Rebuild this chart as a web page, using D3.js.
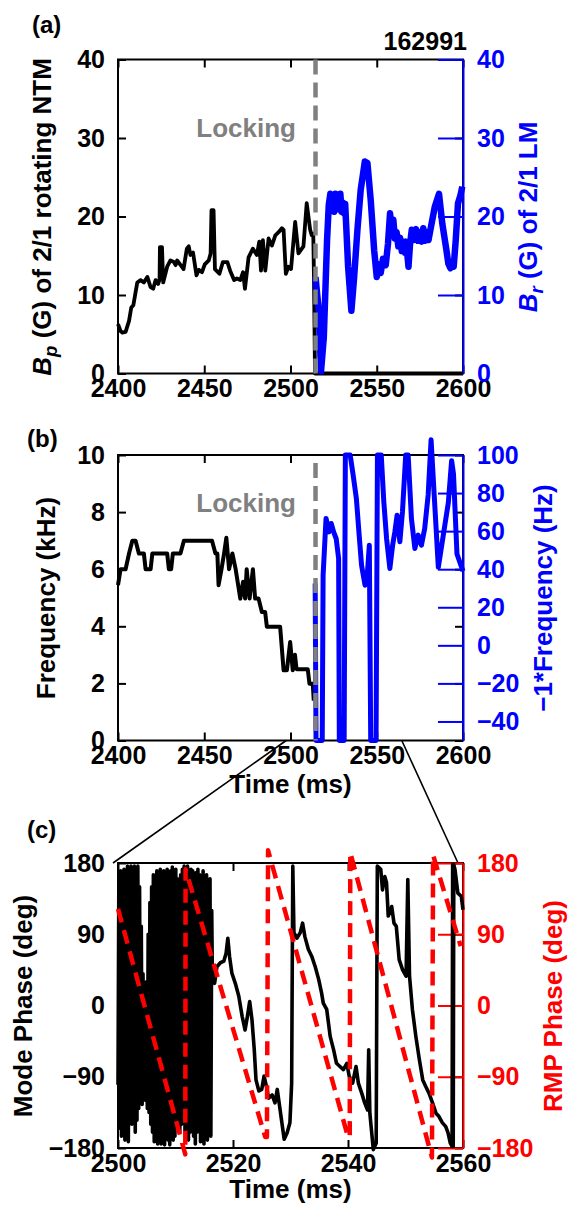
<!DOCTYPE html>
<html><head><meta charset="utf-8">
<script src="https://cdn.jsdelivr.net/npm/d3@7"></script>
<style>html,body{margin:0;padding:0;background:#fff;} svg{display:block;}</style>
</head><body>
<svg id="chart" width="573" height="1205"></svg>
<script>
// ---------------- DATA ----------------
const shotNumber = "162991";
const lockingTime = 2514.5;

// (a) B_p of 2/1 rotating NTM (G) : [time ms, value]
const bpNTM = [[2400,6.3],[2401.5,5.4],[2402.5,5.2],[2404.4,5.3],[2406.4,6.7],[2407.7,8.4],[2408.9,8.7],[2410.3,10.5],[2411.2,11.6],[2413.1,11.9],[2415,11.6],[2417,12.3],[2418.9,11],[2420.4,10.8],[2421.8,11.9],[2423.3,11.4],[2424.1,12],[2424.3,16.1],[2425.5,16.1],[2426.2,11.6],[2428.5,13.6],[2430.4,14.4],[2432.4,14.2],[2433.4,13.8],[2434.3,14.4],[2436,13.9],[2438,13.3],[2439.9,15.9],[2441,16.2],[2442,15.1],[2443.5,15.4],[2445.5,12.5],[2446.8,13.2],[2448.7,12.9],[2450.3,13.9],[2452.6,14.4],[2453.7,15.3],[2454.2,20.8],[2455.4,20.8],[2456.2,13.3],[2458.8,12.7],[2460.8,14.2],[2463.4,14.2],[2465,13.1],[2467.3,11.9],[2468.9,12.1],[2470.9,11.9],[2472.5,12.9],[2473.6,10.8],[2475.7,14.8],[2478.2,15.9],[2480.5,15.1],[2481.9,16.8],[2482.9,13.1],[2484,17],[2485.4,13.1],[2487.3,17.2],[2489.2,16.3],[2491.2,17.6],[2493.1,18],[2495,18.5],[2496,18.3],[2497.3,12.7],[2498.8,13.6],[2500.3,13.3],[2502.7,19.3],[2504.6,15.3],[2507.5,16.2],[2509.4,21.7],[2511.4,18.3],[2512.3,17.6],[2513.2,17.8],[2513.6,12.3],[2514.2,0],[2600,0]];

// (a) B_r of 2/1 locked mode (G)
const brLM = [[2514.5,12.3],[2516.4,8.0],[2517.7,0.3],[2519.3,4.6],[2521.2,17],[2522.2,21.5],[2523.1,22.9],[2523.8,20.8],[2524.6,22.3],[2525.3,20.6],[2526,22.9],[2526.8,21],[2527.5,22.4],[2528.2,20.9],[2528.9,22.9],[2529.6,20.6],[2530.4,21.8],[2531.1,20.4],[2531.7,21.6],[2533.4,13.6],[2535.3,8.0],[2536.9,12.3],[2538.8,18.3],[2540.7,23.4],[2543.1,27],[2544.6,26.8],[2546.5,22.1],[2548.5,15.7],[2550,12.3],[2551.2,13.9],[2552.3,12.8],[2553.6,14.6],[2555.2,13.8],[2556.5,16.5],[2557.7,20.4],[2558.6,18.6],[2559.6,19.6],[2560.5,17.2],[2561.5,18],[2562.5,16.2],[2563.5,17.3],[2564.5,15.6],[2565.4,16.8],[2566.3,15.4],[2567,16.8],[2568.4,13.6],[2569.3,16.5],[2570.3,18.3],[2571.5,17],[2572.8,18.4],[2574,16.9],[2575.1,18],[2576,16.8],[2577,18.5],[2578,16.9],[2579,18],[2580,17],[2581.1,18.3],[2583.6,21.2],[2586.1,22.9],[2588,19.1],[2590.4,15.7],[2591.5,14],[2592.7,13.4],[2593.6,14.2],[2594.6,13.6],[2595.8,17],[2597.1,21.7],[2598.4,22.6],[2599.6,23.8]];

// (b) NTM frequency (kHz)
const freqNTM = [[2400,5.44],[2401.5,6.0],[2404.4,6.0],[2406.4,6.55],[2408.3,7.0],[2410.2,7.0],[2412.1,6.55],[2415,6.55],[2416,6.0],[2418.9,6.0],[2419.9,6.55],[2428.5,6.55],[2429.5,6.0],[2430.8,6.0],[2431.8,6.55],[2436.2,6.55],[2438.2,7.0],[2454.5,7.0],[2456.5,6.55],[2457.6,6.55],[2458.3,5.44],[2460,6.0],[2461.5,6.55],[2462.8,7.1],[2464.4,6.0],[2466.3,6.55],[2468.2,6.0],[2470.9,4.97],[2472.5,5.56],[2473.7,4.97],[2474.6,6.0],[2476.3,4.97],[2478.2,6.0],[2479.5,4.97],[2481.5,4.97],[2483.4,4.5],[2485.3,4.5],[2486.3,3.98],[2494,3.98],[2496,2.46],[2497.9,2.46],[2499.8,3.45],[2501.3,2.46],[2502.6,3.0],[2503.5,2.5],[2510,2.5],[2511,1.99],[2512.9,1.99],[2513.5,1.4]];

// (b) -1*frequency of locked mode (Hz)
const negFreqLM = [[2514.3,32.5],[2514.8,-50],[2518.4,-50],[2518.9,36.8],[2520.6,66.7],[2522.3,59.6],[2523.6,64],[2525,59.6],[2526.5,56],[2527.9,45.6],[2528.3,-50],[2531.1,-50],[2531.8,100],[2534.6,100],[2536.3,89.5],[2538.2,77],[2539.8,58],[2541.2,42],[2543.2,31.6],[2544.5,36.8],[2545.7,52.6],[2546.5,-50],[2549.6,-50],[2550.4,100],[2552.6,100],[2554.1,75.4],[2555.7,56],[2557.6,40.4],[2559.2,52.6],[2560.5,59.6],[2561.8,68.4],[2563.4,54.4],[2564.9,70.2],[2566.8,100],[2568.2,100],[2570.1,66.7],[2572.1,50.9],[2574,57.9],[2575.9,52.6],[2577.8,61.4],[2579.8,79],[2581.5,108],[2583.3,79],[2585.7,41],[2588.6,58],[2591.5,75],[2593.4,97],[2594.5,90],[2596.5,48],[2600,39]];

// (c) mode phase (deg): fast rotating part, then slow part
const modePhaseFast = [[2500,-100],[2500.15,165],[2500.3,-155],[2500.45,170],[2500.6,-165],[2500.75,160],[2500.9,-150],[2501.05,172],[2501.2,-170],[2501.35,168],[2501.5,-160],[2501.65,176],[2501.8,-172],[2501.95,160],[2502.1,-140],[2502.25,176],[2502.4,-150],[2502.55,170],[2502.7,-135],[2502.85,176],[2503,-160],[2503.15,165],[2503.3,-145],[2503.45,176],[2503.6,-130],[2503.75,150],[2503.9,-120],[2504.05,100],[2504.2,-125],[2504.35,40],[2504.5,-110],[2504.65,-20],[2504.8,-120],[2504.95,30],[2505.1,-130],[2505.25,90],[2505.4,-135],[2505.55,130],[2505.7,-150],[2505.85,150],[2506,-160],[2506.15,165],[2506.3,-172],[2506.45,150],[2506.6,-165],[2506.75,170],[2506.9,-175],[2507.05,160],[2507.2,-170],[2507.35,172],[2507.5,-175],[2507.65,165],[2507.8,-168],[2507.95,170],[2508.1,-176],[2508.25,160],[2508.4,-165],[2508.55,172],[2508.7,-170],[2508.85,165],[2509,-176],[2509.15,170],[2509.3,-160],[2509.45,175],[2509.6,-170],[2509.75,168],[2509.9,-165],[2510.05,172],[2510.2,-150],[2510.35,160],[2510.5,-155],[2510.75,-160],[2510.9,165],[2511.05,-150],[2511.2,172],[2511.35,-135],[2511.5,176],[2511.65,-160],[2511.8,170],[2511.95,-150],[2512.1,176],[2512.25,-170],[2512.4,165],[2512.55,-160],[2512.7,172],[2512.85,-130],[2513,170],[2513.15,-165],[2513.3,160],[2513.45,-175],[2513.6,168],[2513.75,-160],[2513.9,172],[2514.05,-150],[2514.2,165],[2514.35,-172],[2514.5,160],[2514.65,-165],[2514.8,170],[2514.95,-175],[2515.1,160],[2515.25,-160],[2515.4,165],[2515.55,-170],[2515.7,150],[2515.85,-155],[2516,160],[2516.15,-165],[2516.3,120],[2516.4,45]];
const modePhaseSlow = [[2516.4,45],[2516.8,28],[2517.2,49],[2517.8,54],[2518.4,56],[2518.8,66],[2519.1,85],[2519.4,62],[2519.8,41],[2520.4,28],[2521,12],[2521.6,-14],[2522.1,-31],[2522.5,-14],[2522.9,5],[2523.3,-18],[2523.7,-56],[2524,-94],[2524.5,-108],[2525,-106],[2525.4,-89],[2525.8,-102],[2526.2,-117],[2526.8,-113],[2527.3,-123],[2527.7,-106],[2528.1,-127],[2528.5,-148],[2528.9,-169],[2529.4,-161],[2529.9,-148],[2530.2,-98],[2530.4,176],[2530.6,92],[2531.1,85],[2531.7,92],[2532.1,104],[2532.5,87],[2533.1,71],[2533.7,62],[2534.3,49],[2534.9,33],[2535.4,16],[2535.7,3],[2536.3,-5],[2536.9,-39],[2537.5,-56],[2538,-73],[2538.6,-77],[2539.2,-81],[2539.8,-73],[2540.2,-89],[2540.8,-98],[2541.4,-77],[2541.8,-98],[2542.4,-111],[2542.9,-123],[2543.4,-132],[2543.6,-56],[2543.8,-136],[2544.4,-182],[2544.9,-174],[2545.1,176],[2545.7,172],[2546,146],[2546.4,163],[2546.7,155],[2547,113],[2547.6,125],[2548,104],[2548.4,100],[2548.9,58],[2549.5,45],[2550.1,37],[2550.4,159],[2550.7,37],[2551.2,-5],[2551.8,-39],[2552.4,-68],[2553,-94],[2553.5,-102],[2554.1,-111],[2554.7,-123],[2555.3,-136],[2555.8,-140],[2556.4,-148],[2557,-153],[2557.4,-161],[2557.8,-174],[2558.1,-178],[2558.2,178],[2558.3,-178],[2558.4,178],[2558.6,172],[2559.1,142],[2559.7,138],[2560,121]];

// (c) RMP phase (deg)
const rmpPhase = [[2500,122],[2511.7,-188],[2511.75,172],[2525.6,-166],[2525.9,-166],[2526.1,196],[2540,-166],[2540.3,-166],[2540.4,193],[2554.6,-192],[2554.8,190],[2559.6,75]];

// ticks
const xTicksAB = [2400,2450,2500,2550,2600];
const xTicksC = [2500,2520,2540,2560];
const yTicksA = [0,10,20,30,40];
const yTicksB = [0,2,4,6,8,10];
const yRTicksB = [-40,-20,0,20,40,60,80,100];
const yTicksC = [-180,-90,0,90,180];

// ---------------- LAYOUT ----------------
const FONT = "'Liberation Sans', Arial, Helvetica, sans-serif";
const TICK_FS = 25, TITLE_FS = 26;
const X0 = 118, X1 = 463;
const BLUE = "#0000ff", RED = "#ff0000", GRAY = "#808080";

const svg = d3.select("#chart");

const xA = d3.scaleLinear([2400, 2600], [X0, X1]);
const yA = d3.scaleLinear([0, 40], [373.5, 59.5]);
const yAR = d3.scaleLinear([0, 40], [373.5, 59.5]);
const xB = d3.scaleLinear([2400, 2600], [X0, X1]);
const yB = d3.scaleLinear([0, 10], [740.5, 455]);
const yBR = d3.scaleLinear([-50, 100], [740.5, 455]);
const xC = d3.scaleLinear([2500, 2560], [X0, X1]);
const yC = d3.scaleLinear([-180, 180], [1148, 863]);
const yCR = d3.scaleLinear([-180, 180], [1148, 863]);

function styleAxis(g, color) {
  g.attr("font-family", FONT).attr("font-size", TICK_FS).attr("font-weight", "bold");
  g.selectAll("line").attr("stroke", color).attr("stroke-width", 2);
  g.selectAll("path.domain").attr("stroke", color).attr("stroke-width", 2);
  g.selectAll("text").attr("fill", color);
}

function frame(x, y, yR, xTicks, yTicks, yRTicks, rightColor) {
  const [x0, x1] = x.range();
  const [y0, y1] = y.range();
  const fmt = d3.format("d");
  const gb = svg.append("g").attr("transform", `translate(0,${y0})`)
    .call(d3.axisBottom(x).tickValues(xTicks).tickSize(-8).tickSizeOuter(0).tickPadding(6).tickFormat(fmt));
  gb.select(".domain").remove(); styleAxis(gb, "#000");
  const gt = svg.append("g").attr("transform", `translate(0,${y1})`)
    .call(d3.axisTop(x).tickValues(xTicks).tickSize(-8).tickSizeOuter(0).tickFormat(""));
  gt.select(".domain").remove(); styleAxis(gt, "#000");
  const gl = svg.append("g").attr("transform", `translate(${x0},0)`)
    .call(d3.axisLeft(y).tickValues(yTicks).tickSize(-8).tickSizeOuter(0).tickPadding(13).tickFormat(fmt));
  gl.select(".domain").remove(); styleAxis(gl, "#000");
  const gm = svg.append("g").attr("transform", `translate(${x1},0)`)
    .call(d3.axisRight(y).tickValues(yTicks).tickSize(-8).tickSizeOuter(0).tickFormat(""));
  gm.select(".domain").remove(); styleAxis(gm, "#000");
  svg.append("rect").attr("x", x0).attr("y", y1).attr("width", x1 - x0).attr("height", y0 - y1)
    .attr("fill", "none").attr("stroke", "#000").attr("stroke-width", 2);
  const gr = svg.append("g").attr("transform", `translate(${x1},0)`)
    .call(d3.axisRight(yR).tickValues(yRTicks).tickSize(-25).tickSizeOuter(0).tickPadding(14).tickFormat(fmt));
  styleAxis(gr, rightColor);
}

function plotLine(data, x, y, color, width, dash) {
  const line = d3.line().x(d => x(d[0])).y(d => y(d[1]));
  const p = svg.append("path").datum(data).attr("d", line)
    .attr("fill", "none").attr("stroke", color).attr("stroke-width", width)
    .attr("stroke-linejoin", "round");
  if (dash) p.attr("stroke-dasharray", dash);
  return p;
}

function yTitle(x, y, parts, color) {
  const t = svg.append("text").attr("transform", `translate(${x},${y}) rotate(-90)`)
    .attr("text-anchor", "middle").attr("font-family", FONT).attr("font-size", TITLE_FS)
    .attr("font-weight", "bold").attr("fill", color);
  parts.forEach(p => {
    const s = t.append("tspan").text(p.text);
    if (p.italic) s.attr("font-style", "italic");
    if (p.sub) s.attr("font-size", TITLE_FS * 0.72).attr("dy", 6);
    if (p.unsub) s.attr("dy", -6);
  });
}

function label(x, y, text, opts = {}) {
  return svg.append("text").attr("x", x).attr("y", y).text(text)
    .attr("font-family", FONT).attr("font-weight", "bold")
    .attr("font-size", opts.size || TITLE_FS).attr("fill", opts.color || "#000")
    .attr("text-anchor", opts.anchor || "start");
}

// ---------------- PANEL (a) ----------------
frame(xA, yA, yAR, xTicksAB, yTicksA, yTicksA, BLUE);
plotLine(bpNTM, xA, yA, "#000", 3.8);
plotLine(brLM, xA, yAR, BLUE, 6.5);
svg.append("line").attr("x1", xA(lockingTime)).attr("x2", xA(lockingTime))
  .attr("y1", yA(40)).attr("y2", yA(0)).attr("stroke", GRAY).attr("stroke-width", 4.5)
  .attr("stroke-dasharray", "15,8");
label(296, 137, "Locking", {color: GRAY, anchor: "end"});
label(467, 50, shotNumber, {size: TICK_FS, anchor: "end"});
label(32, 33, "(a)", {size: 24});
yTitle(51, 217, [{text: "B", italic: true}, {text: "p", italic: true, sub: true}, {text: " (G) of 2/1 rotating NTM", unsub: true}], "#000");
yTitle(537, 217, [{text: "B", italic: true}, {text: "r", italic: true, sub: true}, {text: " (G) of 2/1 LM", unsub: true}], BLUE);

// ---------------- PANEL (b) ----------------
frame(xB, yB, yBR, xTicksAB, yTicksB, yRTicksB, BLUE);
plotLine(freqNTM, xB, yB, "#000", 4);
plotLine(negFreqLM, xB, yBR, BLUE, 5);
svg.append("line").attr("x1", xB(lockingTime)).attr("x2", xB(lockingTime))
  .attr("y1", yB(10)).attr("y2", yB(0)).attr("stroke", GRAY).attr("stroke-width", 4.5)
  .attr("stroke-dasharray", "15,8").attr("stroke-dashoffset", 15);
label(296, 512, "Locking", {color: GRAY, anchor: "end"});
label(27, 447, "(b)", {size: 24});
label((X0 + X1) / 2, 793, "Time (ms)", {anchor: "middle"});
yTitle(55, 598, [{text: "Frequency (kHz)"}], "#000");
yTitle(552, 598, [{text: "\u22121*Frequency (Hz)"}], BLUE);

// zoom connector lines from (b) to (c)
const zoomFrom = [2497.5, 2564.5];
const zoomTo = [2500, 2560];
zoomFrom.forEach((t, i) => {
  svg.append("line").attr("x1", xB(t)).attr("y1", yB(0))
    .attr("x2", xC(zoomTo[i]) - 5).attr("y2", yC(180))
    .attr("stroke", "#000").attr("stroke-width", 1.6);
});

// ---------------- PANEL (c) ----------------
frame(xC, yC, yCR, xTicksC, yTicksC, yTicksC, RED);
plotLine(modePhaseFast, xC, yC, "#000", 3.6);
plotLine(modePhaseSlow, xC, yC, "#000", 3.6);
plotLine(rmpPhase, xC, yCR, RED, 4.5, "14,8");
label(27, 838, "(c)", {size: 24});
label((X0 + X1) / 2, 1198, "Time (ms)", {anchor: "middle"});
yTitle(32, 1006, [{text: "Mode Phase (deg)"}], "#000");
yTitle(562, 1006, [{text: "RMP Phase (deg)"}], RED);
</script>
</body></html>
